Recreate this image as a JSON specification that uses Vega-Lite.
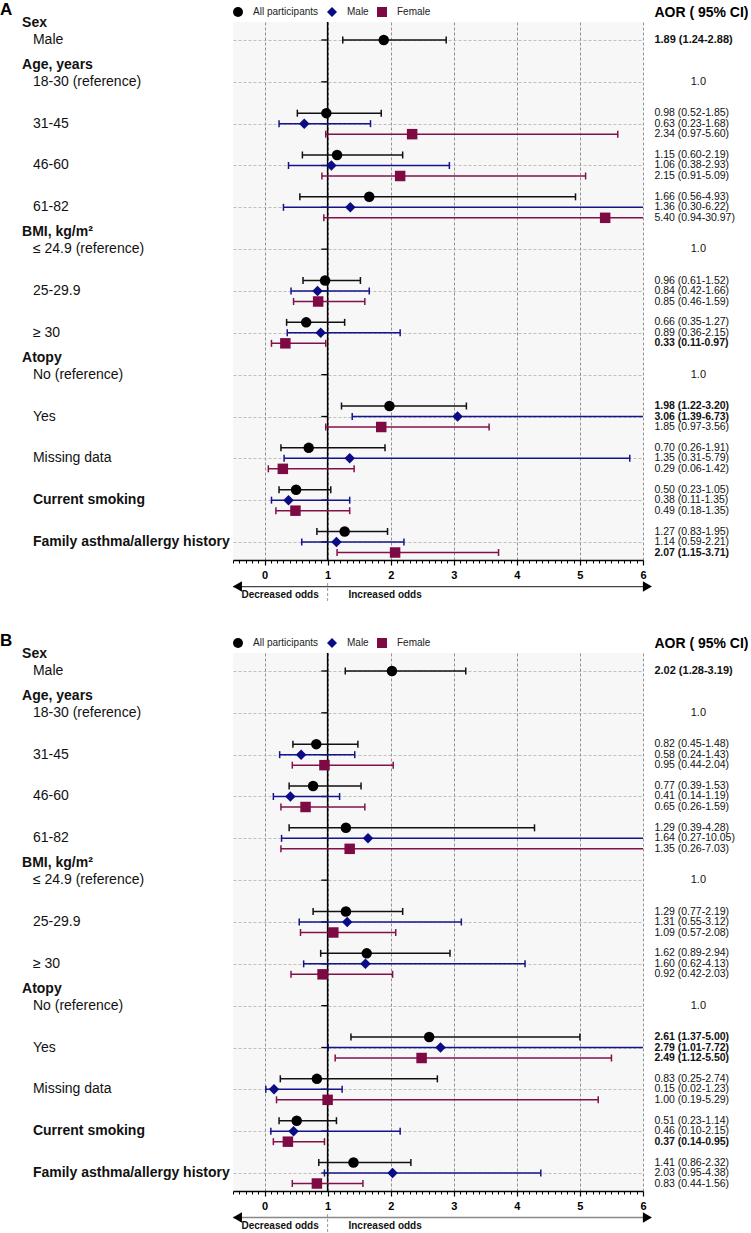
{
"$schema": "https://vega.github.io/schema/vega-lite/v6.json",
"padding": 0,
"background": "white",
"config": {"font": "Liberation Sans", "view": {"stroke": null}, "title": {"anchor": "start", "fontWeight": "bold", "color": "#000"}, "text": {"color": "#111"}},
"datasets": {
"rows": [
{"row": "Male", "group": "Sex", "header": "Sex"},
{"row": "18-30 (reference)", "group": "Age, years", "header": "Age, years", "aor": "1.0"},
{"row": "31-45", "group": "Age, years"},
{"row": "46-60", "group": "Age, years"},
{"row": "61-82", "group": "Age, years"},
{"row": "≤ 24.9 (reference)", "group": "BMI, kg/m²", "header": "BMI, kg/m²", "aor": "1.0"},
{"row": "25-29.9", "group": "BMI, kg/m²"},
{"row": "≥ 30", "group": "BMI, kg/m²"},
{"row": "No (reference)", "group": "Atopy", "header": "Atopy", "aor": "1.0"},
{"row": "Yes", "group": "Atopy"},
{"row": "Missing data", "group": "Atopy"},
{"row": "Current smoking", "group": "Current smoking"},
{"row": "Family asthma/allergy history", "group": "Family asthma/allergy history"}
],
"estA": [
{"row": "Male", "group": "Sex", "series": "All participants", "aor": 1.89, "lo": 1.24, "hi": 2.88, "ci": "1.89 (1.24-2.88)"},
{"row": "31-45", "group": "Age", "series": "All participants", "aor": 0.98, "lo": 0.52, "hi": 1.85, "ci": "0.98 (0.52-1.85)"},
{"row": "31-45", "group": "Age", "series": "Male", "aor": 0.63, "lo": 0.23, "hi": 1.68, "ci": "0.63 (0.23-1.68)"},
{"row": "31-45", "group": "Age", "series": "Female", "aor": 2.34, "lo": 0.97, "hi": 5.60, "ci": "2.34 (0.97-5.60)"},
{"row": "46-60", "group": "Age", "series": "All participants", "aor": 1.15, "lo": 0.60, "hi": 2.19, "ci": "1.15 (0.60-2.19)"},
{"row": "46-60", "group": "Age", "series": "Male", "aor": 1.06, "lo": 0.38, "hi": 2.93, "ci": "1.06 (0.38-2.93)"},
{"row": "46-60", "group": "Age", "series": "Female", "aor": 2.15, "lo": 0.91, "hi": 5.09, "ci": "2.15 (0.91-5.09)"},
{"row": "61-82", "group": "Age", "series": "All participants", "aor": 1.66, "lo": 0.56, "hi": 4.93, "ci": "1.66 (0.56-4.93)"},
{"row": "61-82", "group": "Age", "series": "Male", "aor": 1.36, "lo": 0.30, "hi": 6.22, "ci": "1.36 (0.30-6.22)"},
{"row": "61-82", "group": "Age", "series": "Female", "aor": 5.40, "lo": 0.94, "hi": 30.97, "ci": "5.40 (0.94-30.97)"},
{"row": "25-29.9", "group": "BMI", "series": "All participants", "aor": 0.96, "lo": 0.61, "hi": 1.52, "ci": "0.96 (0.61-1.52)"},
{"row": "25-29.9", "group": "BMI", "series": "Male", "aor": 0.84, "lo": 0.42, "hi": 1.66, "ci": "0.84 (0.42-1.66)"},
{"row": "25-29.9", "group": "BMI", "series": "Female", "aor": 0.85, "lo": 0.46, "hi": 1.59, "ci": "0.85 (0.46-1.59)"},
{"row": "≥ 30", "group": "BMI", "series": "All participants", "aor": 0.66, "lo": 0.35, "hi": 1.27, "ci": "0.66 (0.35-1.27)"},
{"row": "≥ 30", "group": "BMI", "series": "Male", "aor": 0.89, "lo": 0.36, "hi": 2.15, "ci": "0.89 (0.36-2.15)"},
{"row": "≥ 30", "group": "BMI", "series": "Female", "aor": 0.33, "lo": 0.11, "hi": 0.97, "ci": "0.33 (0.11-0.97)"},
{"row": "Yes", "group": "Atopy", "series": "All participants", "aor": 1.98, "lo": 1.22, "hi": 3.20, "ci": "1.98 (1.22-3.20)"},
{"row": "Yes", "group": "Atopy", "series": "Male", "aor": 3.06, "lo": 1.39, "hi": 6.73, "ci": "3.06 (1.39-6.73)"},
{"row": "Yes", "group": "Atopy", "series": "Female", "aor": 1.85, "lo": 0.97, "hi": 3.56, "ci": "1.85 (0.97-3.56)"},
{"row": "Missing data", "group": "Atopy", "series": "All participants", "aor": 0.70, "lo": 0.26, "hi": 1.91, "ci": "0.70 (0.26-1.91)"},
{"row": "Missing data", "group": "Atopy", "series": "Male", "aor": 1.35, "lo": 0.31, "hi": 5.79, "ci": "1.35 (0.31-5.79)"},
{"row": "Missing data", "group": "Atopy", "series": "Female", "aor": 0.29, "lo": 0.06, "hi": 1.42, "ci": "0.29 (0.06-1.42)"},
{"row": "Current smoking", "group": "Smoking", "series": "All participants", "aor": 0.50, "lo": 0.23, "hi": 1.05, "ci": "0.50 (0.23-1.05)"},
{"row": "Current smoking", "group": "Smoking", "series": "Male", "aor": 0.38, "lo": 0.11, "hi": 1.35, "ci": "0.38 (0.11-1.35)"},
{"row": "Current smoking", "group": "Smoking", "series": "Female", "aor": 0.49, "lo": 0.18, "hi": 1.35, "ci": "0.49 (0.18-1.35)"},
{"row": "Family asthma/allergy history", "group": "Family", "series": "All participants", "aor": 1.27, "lo": 0.83, "hi": 1.95, "ci": "1.27 (0.83-1.95)"},
{"row": "Family asthma/allergy history", "group": "Family", "series": "Male", "aor": 1.14, "lo": 0.59, "hi": 2.21, "ci": "1.14 (0.59-2.21)"},
{"row": "Family asthma/allergy history", "group": "Family", "series": "Female", "aor": 2.07, "lo": 1.15, "hi": 3.71, "ci": "2.07 (1.15-3.71)"}
],
"estB": [
{"row": "Male", "group": "Sex", "series": "All participants", "aor": 2.02, "lo": 1.28, "hi": 3.19, "ci": "2.02 (1.28-3.19)"},
{"row": "31-45", "group": "Age", "series": "All participants", "aor": 0.82, "lo": 0.45, "hi": 1.48, "ci": "0.82 (0.45-1.48)"},
{"row": "31-45", "group": "Age", "series": "Male", "aor": 0.58, "lo": 0.24, "hi": 1.43, "ci": "0.58 (0.24-1.43)"},
{"row": "31-45", "group": "Age", "series": "Female", "aor": 0.95, "lo": 0.44, "hi": 2.04, "ci": "0.95 (0.44-2.04)"},
{"row": "46-60", "group": "Age", "series": "All participants", "aor": 0.77, "lo": 0.39, "hi": 1.53, "ci": "0.77 (0.39-1.53)"},
{"row": "46-60", "group": "Age", "series": "Male", "aor": 0.41, "lo": 0.14, "hi": 1.19, "ci": "0.41 (0.14-1.19)"},
{"row": "46-60", "group": "Age", "series": "Female", "aor": 0.65, "lo": 0.26, "hi": 1.59, "ci": "0.65 (0.26-1.59)"},
{"row": "61-82", "group": "Age", "series": "All participants", "aor": 1.29, "lo": 0.39, "hi": 4.28, "ci": "1.29 (0.39-4.28)"},
{"row": "61-82", "group": "Age", "series": "Male", "aor": 1.64, "lo": 0.27, "hi": 10.05, "ci": "1.64 (0.27-10.05)"},
{"row": "61-82", "group": "Age", "series": "Female", "aor": 1.35, "lo": 0.26, "hi": 7.03, "ci": "1.35 (0.26-7.03)"},
{"row": "25-29.9", "group": "BMI", "series": "All participants", "aor": 1.29, "lo": 0.77, "hi": 2.19, "ci": "1.29 (0.77-2.19)"},
{"row": "25-29.9", "group": "BMI", "series": "Male", "aor": 1.31, "lo": 0.55, "hi": 3.12, "ci": "1.31 (0.55-3.12)"},
{"row": "25-29.9", "group": "BMI", "series": "Female", "aor": 1.09, "lo": 0.57, "hi": 2.08, "ci": "1.09 (0.57-2.08)"},
{"row": "≥ 30", "group": "BMI", "series": "All participants", "aor": 1.62, "lo": 0.89, "hi": 2.94, "ci": "1.62 (0.89-2.94)"},
{"row": "≥ 30", "group": "BMI", "series": "Male", "aor": 1.60, "lo": 0.62, "hi": 4.13, "ci": "1.60 (0.62-4.13)"},
{"row": "≥ 30", "group": "BMI", "series": "Female", "aor": 0.92, "lo": 0.42, "hi": 2.03, "ci": "0.92 (0.42-2.03)"},
{"row": "Yes", "group": "Atopy", "series": "All participants", "aor": 2.61, "lo": 1.37, "hi": 5.00, "ci": "2.61 (1.37-5.00)"},
{"row": "Yes", "group": "Atopy", "series": "Male", "aor": 2.79, "lo": 1.01, "hi": 7.72, "ci": "2.79 (1.01-7.72)"},
{"row": "Yes", "group": "Atopy", "series": "Female", "aor": 2.49, "lo": 1.12, "hi": 5.50, "ci": "2.49 (1.12-5.50)"},
{"row": "Missing data", "group": "Atopy", "series": "All participants", "aor": 0.83, "lo": 0.25, "hi": 2.74, "ci": "0.83 (0.25-2.74)"},
{"row": "Missing data", "group": "Atopy", "series": "Male", "aor": 0.15, "lo": 0.02, "hi": 1.23, "ci": "0.15 (0.02-1.23)"},
{"row": "Missing data", "group": "Atopy", "series": "Female", "aor": 1.00, "lo": 0.19, "hi": 5.29, "ci": "1.00 (0.19-5.29)"},
{"row": "Current smoking", "group": "Smoking", "series": "All participants", "aor": 0.51, "lo": 0.23, "hi": 1.14, "ci": "0.51 (0.23-1.14)"},
{"row": "Current smoking", "group": "Smoking", "series": "Male", "aor": 0.46, "lo": 0.10, "hi": 2.15, "ci": "0.46 (0.10-2.15)"},
{"row": "Current smoking", "group": "Smoking", "series": "Female", "aor": 0.37, "lo": 0.14, "hi": 0.95, "ci": "0.37 (0.14-0.95)"},
{"row": "Family asthma/allergy history", "group": "Family", "series": "All participants", "aor": 1.41, "lo": 0.86, "hi": 2.32, "ci": "1.41 (0.86-2.32)"},
{"row": "Family asthma/allergy history", "group": "Family", "series": "Male", "aor": 2.03, "lo": 0.95, "hi": 4.38, "ci": "2.03 (0.95-4.38)"},
{"row": "Family asthma/allergy history", "group": "Family", "series": "Female", "aor": 0.83, "lo": 0.44, "hi": 1.56, "ci": "0.83 (0.44-1.56)"}
]
},
"vconcat": [
{
"hconcat": [
{"width": 232, "height": 538, "title": {"text": "A", "fontSize": 17, "offset": -3},
 "data": {"name": "rows"},
 "layer": [
  {"transform": [{"filter": "datum.header"}], "mark": {"type": "text", "align": "left", "baseline": "middle", "dy": -17, "fontSize": 14, "fontWeight": "bold"},
   "encoding": {"y": {"field": "row", "type": "nominal", "scale": {"type": "point", "domain": ["Male","18-30 (reference)","31-45","46-60","61-82","≤ 24.9 (reference)","25-29.9","≥ 30","No (reference)","Yes","Missing data","Current smoking","Family asthma/allergy history"], "padding": 0.43}, "axis": null},
    "x": {"datum": 0.095, "type": "quantitative", "scale": {"domain": [0, 1]}, "axis": null}, "text": {"field": "header"}}},
  {"mark": {"type": "text", "align": "left", "baseline": "middle", "fontSize": 14, "fontWeight": {"expr": "datum.row === datum.group ? 'bold' : 'normal'"}},
   "encoding": {"y": {"field": "row", "type": "nominal", "scale": {"type": "point", "domain": ["Male","18-30 (reference)","31-45","46-60","61-82","≤ 24.9 (reference)","25-29.9","≥ 30","No (reference)","Yes","Missing data","Current smoking","Family asthma/allergy history"], "padding": 0.43}, "axis": null},
    "x": {"datum": 0.142, "type": "quantitative", "scale": {"domain": [0, 1]}, "axis": null}, "text": {"field": "row"}}}
 ]},
{"vconcat": [
 {"width": 410, "height": 538, "view": {"fill": "#f7f7f7", "stroke": null},
  "resolve": {"axis": {"x": "independent"}},
  "layer": [
   {"data": {"name": "rows"}, "mark": {"type": "rule", "color": "#000", "strokeWidth": 1.3},
    "encoding": {"y": {"field": "row", "type": "nominal", "scale": {"type": "point", "domain": ["Male","18-30 (reference)","31-45","46-60","61-82","≤ 24.9 (reference)","25-29.9","≥ 30","No (reference)","Yes","Missing data","Current smoking","Family asthma/allergy history"], "padding": 0.43}, "axis": {"grid": true, "gridColor": "#b0b0b0", "gridDash": [3, 2], "gridWidth": 0.8, "labels": false, "ticks": false, "domain": false, "title": null}},
     "x": {"datum": 0.9, "type": "quantitative", "scale": {"domain": [-0.5, 6], "nice": false, "zero": false},
      "axis": {"orient": "bottom", "values": [0, 1, 2, 3, 4, 5, 6], "format": "d", "title": null, "domainColor": "#000", "domainWidth": 1.5, "tickColor": "#000", "tickWidth": 1.2, "tickSize": 5,
       "labelFontSize": 11, "labelFontWeight": "bold", "labelColor": "#000", "labelPadding": 4, "labelFlush": false, "labelOverlap": false,
       "grid": true, "gridColor": "#777", "gridDash": [3, 2], "gridWidth": 0.8}},
     "x2": {"datum": 1}}},
   {"data": {"values": [{}]}, "mark": {"type": "rule", "color": "#000", "strokeWidth": 1.5},
    "encoding": {"x": {"datum": 1, "type": "quantitative", "scale": {"domain": [-0.5, 6], "nice": false, "zero": false},
     "axis": {"orient": "bottom", "values": [-0.5,-0.4,-0.3,-0.2,-0.1,0.1,0.2,0.3,0.4,0.5,0.6,0.7,0.8,0.9,1.1,1.2,1.3,1.4,1.5,1.6,1.7,1.8,1.9,2.1,2.2,2.3,2.4,2.5,2.6,2.7,2.8,2.9,3.1,3.2,3.3,3.4,3.5,3.6,3.7,3.8,3.9,4.1,4.2,4.3,4.4,4.5,4.6,4.7,4.8,4.9,5.1,5.2,5.3,5.4,5.5,5.6,5.7,5.8,5.9],
      "title": null, "labels": false, "grid": false, "domain": false, "tickColor": "#000", "tickWidth": 1, "tickSize": 3}}}},
   {"data": {"name": "estA"}, "transform": [{"filter": "datum.group !== 'Sex'"}],
    "encoding": {"y": {"field": "row", "type": "nominal", "scale": {"type": "point", "domain": ["Male","18-30 (reference)","31-45","46-60","61-82","≤ 24.9 (reference)","25-29.9","≥ 30","No (reference)","Yes","Missing data","Current smoking","Family asthma/allergy history"], "padding": 0.43}, "axis": {"title": null}},
     "yOffset": {"field": "series", "type": "nominal", "scale": {"type": "point", "domain": ["All participants", "Male", "Female"], "range": [-10.5, 10.5], "padding": 0}}},
    "layer": [
     {"mark": {"type": "rule", "strokeWidth": 1.5, "clip": true},
      "encoding": {"x": {"field": "lo", "type": "quantitative", "scale": {"domain": [-0.5, 6], "nice": false, "zero": false}, "axis": null}, "x2": {"field": "hi"},
       "stroke": {"field": "series", "type": "nominal", "scale": {"domain": ["Female", "Male", "All participants"], "range": ["#84104a", "#14148c", "#111111"]}, "legend": null}}},
     {"mark": {"type": "point", "shape": "M0,-1L0,1", "filled": false, "size": 49, "strokeWidth": 1.5, "opacity": 1, "clip": true},
      "encoding": {"x": {"field": "lo", "type": "quantitative", "scale": {"domain": [-0.5, 6], "nice": false, "zero": false}, "axis": null},
       "stroke": {"field": "series", "type": "nominal", "scale": {"domain": ["Female", "Male", "All participants"], "range": ["#84104a", "#14148c", "#111111"]}, "legend": null}}},
     {"mark": {"type": "point", "shape": "M0,-1L0,1", "filled": false, "size": 49, "strokeWidth": 1.5, "opacity": 1, "clip": true},
      "encoding": {"x": {"field": "hi", "type": "quantitative", "scale": {"domain": [-0.5, 6], "nice": false, "zero": false}, "axis": null},
       "stroke": {"field": "series", "type": "nominal", "scale": {"domain": ["Female", "Male", "All participants"], "range": ["#84104a", "#14148c", "#111111"]}, "legend": null}}},
     {"mark": {"type": "point", "filled": true, "size": 110, "strokeWidth": 0, "opacity": 1},
      "encoding": {"x": {"field": "aor", "type": "quantitative", "scale": {"domain": [-0.5, 6], "nice": false, "zero": false}, "axis": null},
       "fill": {"field": "series", "type": "nominal", "scale": {"domain": ["All participants", "Male", "Female"], "range": ["#000000", "#0b0b85", "#7d0a42"]},
        "legend": {"orient": "top", "title": null, "direction": "horizontal", "labelFontSize": 10, "labelColor": "#222", "offset": 5, "padding": 0, "symbolStrokeWidth": 0, "symbolSize": 100, "columnPadding": 8, "labelOffset": 10}},
       "shape": {"field": "series", "type": "nominal", "scale": {"domain": ["All participants", "Male", "Female"], "range": ["circle", "diamond", "square"]}}}}
    ]},
   {"data": {"name": "estA"}, "transform": [{"filter": "datum.group === 'Sex'"}],
    "encoding": {"y": {"field": "row", "type": "nominal", "scale": {"type": "point", "domain": ["Male","18-30 (reference)","31-45","46-60","61-82","≤ 24.9 (reference)","25-29.9","≥ 30","No (reference)","Yes","Missing data","Current smoking","Family asthma/allergy history"], "padding": 0.43}, "axis": {"title": null}}},
    "layer": [
     {"mark": {"type": "rule", "strokeWidth": 1.5, "clip": true},
      "encoding": {"x": {"field": "lo", "type": "quantitative", "scale": {"domain": [-0.5, 6], "nice": false, "zero": false}, "axis": null}, "x2": {"field": "hi"},
       "stroke": {"field": "series", "type": "nominal", "scale": {"domain": ["Female", "Male", "All participants"], "range": ["#84104a", "#14148c", "#111111"]}, "legend": null}}},
     {"mark": {"type": "point", "shape": "M0,-1L0,1", "filled": false, "size": 49, "strokeWidth": 1.5, "opacity": 1, "clip": true},
      "encoding": {"x": {"field": "lo", "type": "quantitative", "scale": {"domain": [-0.5, 6], "nice": false, "zero": false}, "axis": null},
       "stroke": {"field": "series", "type": "nominal", "scale": {"domain": ["Female", "Male", "All participants"], "range": ["#84104a", "#14148c", "#111111"]}, "legend": null}}},
     {"mark": {"type": "point", "shape": "M0,-1L0,1", "filled": false, "size": 49, "strokeWidth": 1.5, "opacity": 1, "clip": true},
      "encoding": {"x": {"field": "hi", "type": "quantitative", "scale": {"domain": [-0.5, 6], "nice": false, "zero": false}, "axis": null},
       "stroke": {"field": "series", "type": "nominal", "scale": {"domain": ["Female", "Male", "All participants"], "range": ["#84104a", "#14148c", "#111111"]}, "legend": null}}},
     {"mark": {"type": "point", "filled": true, "size": 110, "strokeWidth": 0, "opacity": 1},
      "encoding": {"x": {"field": "aor", "type": "quantitative", "scale": {"domain": [-0.5, 6], "nice": false, "zero": false}, "axis": null},
       "fill": {"field": "series", "type": "nominal", "scale": {"domain": ["All participants", "Male", "Female"], "range": ["#000000", "#0b0b85", "#7d0a42"]}},
       "shape": {"field": "series", "type": "nominal", "scale": {"domain": ["All participants", "Male", "Female"], "range": ["circle", "diamond", "square"]}}}}
    ]}
  ]},
 {"width": 410, "height": 18, "data": {"values": [{}]},
  "layer": [
   {"mark": {"type": "rule", "color": "#999", "strokeWidth": 1, "strokeDash": [3, 2]},
    "encoding": {"x": {"datum": 1, "type": "quantitative", "scale": {"domain": [-0.5, 6], "nice": false, "zero": false}, "axis": null},
     "y": {"datum": 0, "type": "quantitative", "scale": {"domain": [0, 1]}, "axis": null}, "y2": {"datum": 1}}},
   {"mark": {"type": "rule", "color": "#444", "strokeWidth": 1.3},
    "encoding": {"x": {"datum": -0.5, "type": "quantitative", "scale": {"domain": [-0.5, 6], "nice": false, "zero": false}, "axis": null}, "x2": {"datum": 6},
     "y": {"datum": 0.8, "type": "quantitative", "scale": {"domain": [0, 1]}, "axis": null}}},
   {"mark": {"type": "point", "shape": "triangle-left", "filled": true, "color": "#000", "size": 110, "opacity": 1},
    "encoding": {"x": {"datum": -0.43, "type": "quantitative", "scale": {"domain": [-0.5, 6], "nice": false, "zero": false}, "axis": null},
     "y": {"datum": 0.8, "type": "quantitative", "scale": {"domain": [0, 1]}, "axis": null}}},
   {"mark": {"type": "point", "shape": "triangle-right", "filled": true, "color": "#000", "size": 110, "opacity": 1},
    "encoding": {"x": {"datum": 6.07, "type": "quantitative", "scale": {"domain": [-0.5, 6], "nice": false, "zero": false}, "axis": null},
     "y": {"datum": 0.8, "type": "quantitative", "scale": {"domain": [0, 1]}, "axis": null}}},
   {"mark": {"type": "text", "text": "Decreased odds", "align": "right", "baseline": "middle", "fontSize": 10, "fontWeight": "bold", "color": "#111"},
    "encoding": {"x": {"datum": 0.86, "type": "quantitative", "scale": {"domain": [-0.5, 6], "nice": false, "zero": false}, "axis": null},
     "y": {"datum": 0.36, "type": "quantitative", "scale": {"domain": [0, 1]}, "axis": null}}},
   {"mark": {"type": "text", "text": "Increased odds", "align": "left", "baseline": "middle", "fontSize": 10, "fontWeight": "bold", "color": "#111"},
    "encoding": {"x": {"datum": 1.33, "type": "quantitative", "scale": {"domain": [-0.5, 6], "nice": false, "zero": false}, "axis": null},
     "y": {"datum": 0.36, "type": "quantitative", "scale": {"domain": [0, 1]}, "axis": null}}}
  ]}
 ], "spacing": 23, "bounds": "flush", "resolve": {"scale": {"fill": "independent", "shape": "independent", "stroke": "independent"}}},
{"width": 104, "height": 538,
 "data": {"name": "estA"},
 "layer": [
  {"data": {"values": [{}]}, "mark": {"type": "text", "text": "AOR ( 95% CI)", "align": "left", "baseline": "middle", "dy": -27, "fontSize": 14, "fontWeight": "bold", "color": "#000"},
   "encoding": {"y": {"datum": "Male", "type": "nominal", "scale": {"type": "point", "domain": ["Male","18-30 (reference)","31-45","46-60","61-82","≤ 24.9 (reference)","25-29.9","≥ 30","No (reference)","Yes","Missing data","Current smoking","Family asthma/allergy history"], "padding": 0.43}, "axis": null},
    "x": {"datum": 0.023, "type": "quantitative", "scale": {"domain": [0, 1]}, "axis": null}}},
  {"transform": [{"filter": "datum.group !== 'Sex'"}],
   "mark": {"type": "text", "align": "left", "baseline": "middle", "fontSize": 10.5, "fontWeight": {"expr": "datum.lo > 1 || datum.hi < 1 ? 'bold' : 'normal'"}},
   "encoding": {"y": {"field": "row", "type": "nominal", "scale": {"type": "point", "domain": ["Male","18-30 (reference)","31-45","46-60","61-82","≤ 24.9 (reference)","25-29.9","≥ 30","No (reference)","Yes","Missing data","Current smoking","Family asthma/allergy history"], "padding": 0.43}, "axis": null},
    "yOffset": {"field": "series", "type": "nominal", "scale": {"type": "point", "domain": ["All participants", "Male", "Female"], "range": [-10.5, 10.5], "padding": 0}},
    "x": {"datum": 0.023, "type": "quantitative", "scale": {"domain": [0, 1]}, "axis": null}, "text": {"field": "ci"}}},
  {"transform": [{"filter": "datum.group === 'Sex'"}],
   "mark": {"type": "text", "align": "left", "baseline": "middle", "fontSize": 11, "fontWeight": {"expr": "datum.lo > 1 || datum.hi < 1 ? 'bold' : 'normal'"}},
   "encoding": {"y": {"field": "row", "type": "nominal", "scale": {"type": "point", "domain": ["Male","18-30 (reference)","31-45","46-60","61-82","≤ 24.9 (reference)","25-29.9","≥ 30","No (reference)","Yes","Missing data","Current smoking","Family asthma/allergy history"], "padding": 0.43}, "axis": null},
    "x": {"datum": 0.023, "type": "quantitative", "scale": {"domain": [0, 1]}, "axis": null}, "text": {"field": "ci"}}},
  {"data": {"name": "rows"}, "transform": [{"filter": "datum.aor"}],
   "mark": {"type": "text", "align": "center", "baseline": "middle", "fontSize": 11},
   "encoding": {"y": {"field": "row", "type": "nominal", "scale": {"type": "point", "domain": ["Male","18-30 (reference)","31-45","46-60","61-82","≤ 24.9 (reference)","25-29.9","≥ 30","No (reference)","Yes","Missing data","Current smoking","Family asthma/allergy history"], "padding": 0.43}, "axis": null},
    "x": {"datum": 0.446, "type": "quantitative", "scale": {"domain": [0, 1]}, "axis": null}, "text": {"field": "aor"}}}
 ]}
], "spacing": 0, "resolve": {"scale": {"fill": "independent", "shape": "independent", "stroke": "independent"}}
},
{
"hconcat": [
{"width": 232, "height": 538, "title": {"text": "B", "fontSize": 17, "offset": -3},
 "data": {"name": "rows"},
 "layer": [
  {"transform": [{"filter": "datum.header"}], "mark": {"type": "text", "align": "left", "baseline": "middle", "dy": -17, "fontSize": 14, "fontWeight": "bold"},
   "encoding": {"y": {"field": "row", "type": "nominal", "scale": {"type": "point", "domain": ["Male","18-30 (reference)","31-45","46-60","61-82","≤ 24.9 (reference)","25-29.9","≥ 30","No (reference)","Yes","Missing data","Current smoking","Family asthma/allergy history"], "padding": 0.43}, "axis": null},
    "x": {"datum": 0.095, "type": "quantitative", "scale": {"domain": [0, 1]}, "axis": null}, "text": {"field": "header"}}},
  {"mark": {"type": "text", "align": "left", "baseline": "middle", "fontSize": 14, "fontWeight": {"expr": "datum.row === datum.group ? 'bold' : 'normal'"}},
   "encoding": {"y": {"field": "row", "type": "nominal", "scale": {"type": "point", "domain": ["Male","18-30 (reference)","31-45","46-60","61-82","≤ 24.9 (reference)","25-29.9","≥ 30","No (reference)","Yes","Missing data","Current smoking","Family asthma/allergy history"], "padding": 0.43}, "axis": null},
    "x": {"datum": 0.142, "type": "quantitative", "scale": {"domain": [0, 1]}, "axis": null}, "text": {"field": "row"}}}
 ]},
{"vconcat": [
 {"width": 410, "height": 538, "view": {"fill": "#f7f7f7", "stroke": null},
  "resolve": {"axis": {"x": "independent"}},
  "layer": [
   {"data": {"name": "rows"}, "mark": {"type": "rule", "color": "#000", "strokeWidth": 1.3},
    "encoding": {"y": {"field": "row", "type": "nominal", "scale": {"type": "point", "domain": ["Male","18-30 (reference)","31-45","46-60","61-82","≤ 24.9 (reference)","25-29.9","≥ 30","No (reference)","Yes","Missing data","Current smoking","Family asthma/allergy history"], "padding": 0.43}, "axis": {"grid": true, "gridColor": "#b0b0b0", "gridDash": [3, 2], "gridWidth": 0.8, "labels": false, "ticks": false, "domain": false, "title": null}},
     "x": {"datum": 0.9, "type": "quantitative", "scale": {"domain": [-0.5, 6], "nice": false, "zero": false},
      "axis": {"orient": "bottom", "values": [0, 1, 2, 3, 4, 5, 6], "format": "d", "title": null, "domainColor": "#000", "domainWidth": 1.5, "tickColor": "#000", "tickWidth": 1.2, "tickSize": 5,
       "labelFontSize": 11, "labelFontWeight": "bold", "labelColor": "#000", "labelPadding": 4, "labelFlush": false, "labelOverlap": false,
       "grid": true, "gridColor": "#777", "gridDash": [3, 2], "gridWidth": 0.8}},
     "x2": {"datum": 1}}},
   {"data": {"values": [{}]}, "mark": {"type": "rule", "color": "#000", "strokeWidth": 1.5},
    "encoding": {"x": {"datum": 1, "type": "quantitative", "scale": {"domain": [-0.5, 6], "nice": false, "zero": false},
     "axis": {"orient": "bottom", "values": [-0.5,-0.4,-0.3,-0.2,-0.1,0.1,0.2,0.3,0.4,0.5,0.6,0.7,0.8,0.9,1.1,1.2,1.3,1.4,1.5,1.6,1.7,1.8,1.9,2.1,2.2,2.3,2.4,2.5,2.6,2.7,2.8,2.9,3.1,3.2,3.3,3.4,3.5,3.6,3.7,3.8,3.9,4.1,4.2,4.3,4.4,4.5,4.6,4.7,4.8,4.9,5.1,5.2,5.3,5.4,5.5,5.6,5.7,5.8,5.9],
      "title": null, "labels": false, "grid": false, "domain": false, "tickColor": "#000", "tickWidth": 1, "tickSize": 3}}}},
   {"data": {"name": "estB"}, "transform": [{"filter": "datum.group !== 'Sex'"}],
    "encoding": {"y": {"field": "row", "type": "nominal", "scale": {"type": "point", "domain": ["Male","18-30 (reference)","31-45","46-60","61-82","≤ 24.9 (reference)","25-29.9","≥ 30","No (reference)","Yes","Missing data","Current smoking","Family asthma/allergy history"], "padding": 0.43}, "axis": {"title": null}},
     "yOffset": {"field": "series", "type": "nominal", "scale": {"type": "point", "domain": ["All participants", "Male", "Female"], "range": [-10.5, 10.5], "padding": 0}}},
    "layer": [
     {"mark": {"type": "rule", "strokeWidth": 1.5, "clip": true},
      "encoding": {"x": {"field": "lo", "type": "quantitative", "scale": {"domain": [-0.5, 6], "nice": false, "zero": false}, "axis": null}, "x2": {"field": "hi"},
       "stroke": {"field": "series", "type": "nominal", "scale": {"domain": ["Female", "Male", "All participants"], "range": ["#84104a", "#14148c", "#111111"]}, "legend": null}}},
     {"mark": {"type": "point", "shape": "M0,-1L0,1", "filled": false, "size": 49, "strokeWidth": 1.5, "opacity": 1, "clip": true},
      "encoding": {"x": {"field": "lo", "type": "quantitative", "scale": {"domain": [-0.5, 6], "nice": false, "zero": false}, "axis": null},
       "stroke": {"field": "series", "type": "nominal", "scale": {"domain": ["Female", "Male", "All participants"], "range": ["#84104a", "#14148c", "#111111"]}, "legend": null}}},
     {"mark": {"type": "point", "shape": "M0,-1L0,1", "filled": false, "size": 49, "strokeWidth": 1.5, "opacity": 1, "clip": true},
      "encoding": {"x": {"field": "hi", "type": "quantitative", "scale": {"domain": [-0.5, 6], "nice": false, "zero": false}, "axis": null},
       "stroke": {"field": "series", "type": "nominal", "scale": {"domain": ["Female", "Male", "All participants"], "range": ["#84104a", "#14148c", "#111111"]}, "legend": null}}},
     {"mark": {"type": "point", "filled": true, "size": 110, "strokeWidth": 0, "opacity": 1},
      "encoding": {"x": {"field": "aor", "type": "quantitative", "scale": {"domain": [-0.5, 6], "nice": false, "zero": false}, "axis": null},
       "fill": {"field": "series", "type": "nominal", "scale": {"domain": ["All participants", "Male", "Female"], "range": ["#000000", "#0b0b85", "#7d0a42"]},
        "legend": {"orient": "top", "title": null, "direction": "horizontal", "labelFontSize": 10, "labelColor": "#222", "offset": 5, "padding": 0, "symbolStrokeWidth": 0, "symbolSize": 100, "columnPadding": 8, "labelOffset": 10}},
       "shape": {"field": "series", "type": "nominal", "scale": {"domain": ["All participants", "Male", "Female"], "range": ["circle", "diamond", "square"]}}}}
    ]},
   {"data": {"name": "estB"}, "transform": [{"filter": "datum.group === 'Sex'"}],
    "encoding": {"y": {"field": "row", "type": "nominal", "scale": {"type": "point", "domain": ["Male","18-30 (reference)","31-45","46-60","61-82","≤ 24.9 (reference)","25-29.9","≥ 30","No (reference)","Yes","Missing data","Current smoking","Family asthma/allergy history"], "padding": 0.43}, "axis": {"title": null}}},
    "layer": [
     {"mark": {"type": "rule", "strokeWidth": 1.5, "clip": true},
      "encoding": {"x": {"field": "lo", "type": "quantitative", "scale": {"domain": [-0.5, 6], "nice": false, "zero": false}, "axis": null}, "x2": {"field": "hi"},
       "stroke": {"field": "series", "type": "nominal", "scale": {"domain": ["Female", "Male", "All participants"], "range": ["#84104a", "#14148c", "#111111"]}, "legend": null}}},
     {"mark": {"type": "point", "shape": "M0,-1L0,1", "filled": false, "size": 49, "strokeWidth": 1.5, "opacity": 1, "clip": true},
      "encoding": {"x": {"field": "lo", "type": "quantitative", "scale": {"domain": [-0.5, 6], "nice": false, "zero": false}, "axis": null},
       "stroke": {"field": "series", "type": "nominal", "scale": {"domain": ["Female", "Male", "All participants"], "range": ["#84104a", "#14148c", "#111111"]}, "legend": null}}},
     {"mark": {"type": "point", "shape": "M0,-1L0,1", "filled": false, "size": 49, "strokeWidth": 1.5, "opacity": 1, "clip": true},
      "encoding": {"x": {"field": "hi", "type": "quantitative", "scale": {"domain": [-0.5, 6], "nice": false, "zero": false}, "axis": null},
       "stroke": {"field": "series", "type": "nominal", "scale": {"domain": ["Female", "Male", "All participants"], "range": ["#84104a", "#14148c", "#111111"]}, "legend": null}}},
     {"mark": {"type": "point", "filled": true, "size": 110, "strokeWidth": 0, "opacity": 1},
      "encoding": {"x": {"field": "aor", "type": "quantitative", "scale": {"domain": [-0.5, 6], "nice": false, "zero": false}, "axis": null},
       "fill": {"field": "series", "type": "nominal", "scale": {"domain": ["All participants", "Male", "Female"], "range": ["#000000", "#0b0b85", "#7d0a42"]}},
       "shape": {"field": "series", "type": "nominal", "scale": {"domain": ["All participants", "Male", "Female"], "range": ["circle", "diamond", "square"]}}}}
    ]}
  ]},
 {"width": 410, "height": 18, "data": {"values": [{}]},
  "layer": [
   {"mark": {"type": "rule", "color": "#999", "strokeWidth": 1, "strokeDash": [3, 2]},
    "encoding": {"x": {"datum": 1, "type": "quantitative", "scale": {"domain": [-0.5, 6], "nice": false, "zero": false}, "axis": null},
     "y": {"datum": 0, "type": "quantitative", "scale": {"domain": [0, 1]}, "axis": null}, "y2": {"datum": 1}}},
   {"mark": {"type": "rule", "color": "#888", "strokeWidth": 1.5},
    "encoding": {"x": {"datum": -0.5, "type": "quantitative", "scale": {"domain": [-0.5, 6], "nice": false, "zero": false}, "axis": null}, "x2": {"datum": 6},
     "y": {"datum": 0.8, "type": "quantitative", "scale": {"domain": [0, 1]}, "axis": null}}},
   {"mark": {"type": "point", "shape": "triangle-left", "filled": true, "color": "#000", "size": 110, "opacity": 1},
    "encoding": {"x": {"datum": -0.43, "type": "quantitative", "scale": {"domain": [-0.5, 6], "nice": false, "zero": false}, "axis": null},
     "y": {"datum": 0.8, "type": "quantitative", "scale": {"domain": [0, 1]}, "axis": null}}},
   {"mark": {"type": "point", "shape": "triangle-right", "filled": true, "color": "#000", "size": 110, "opacity": 1},
    "encoding": {"x": {"datum": 6.07, "type": "quantitative", "scale": {"domain": [-0.5, 6], "nice": false, "zero": false}, "axis": null},
     "y": {"datum": 0.8, "type": "quantitative", "scale": {"domain": [0, 1]}, "axis": null}}},
   {"mark": {"type": "text", "text": "Decreased odds", "align": "right", "baseline": "middle", "fontSize": 10, "fontWeight": "bold", "color": "#111"},
    "encoding": {"x": {"datum": 0.86, "type": "quantitative", "scale": {"domain": [-0.5, 6], "nice": false, "zero": false}, "axis": null},
     "y": {"datum": 0.36, "type": "quantitative", "scale": {"domain": [0, 1]}, "axis": null}}},
   {"mark": {"type": "text", "text": "Increased odds", "align": "left", "baseline": "middle", "fontSize": 10, "fontWeight": "bold", "color": "#111"},
    "encoding": {"x": {"datum": 1.33, "type": "quantitative", "scale": {"domain": [-0.5, 6], "nice": false, "zero": false}, "axis": null},
     "y": {"datum": 0.36, "type": "quantitative", "scale": {"domain": [0, 1]}, "axis": null}}}
  ]}
 ], "spacing": 23, "bounds": "flush", "resolve": {"scale": {"fill": "independent", "shape": "independent", "stroke": "independent"}}},
{"width": 104, "height": 538,
 "data": {"name": "estB"},
 "layer": [
  {"data": {"values": [{}]}, "mark": {"type": "text", "text": "AOR ( 95% CI)", "align": "left", "baseline": "middle", "dy": -27, "fontSize": 14, "fontWeight": "bold", "color": "#000"},
   "encoding": {"y": {"datum": "Male", "type": "nominal", "scale": {"type": "point", "domain": ["Male","18-30 (reference)","31-45","46-60","61-82","≤ 24.9 (reference)","25-29.9","≥ 30","No (reference)","Yes","Missing data","Current smoking","Family asthma/allergy history"], "padding": 0.43}, "axis": null},
    "x": {"datum": 0.023, "type": "quantitative", "scale": {"domain": [0, 1]}, "axis": null}}},
  {"transform": [{"filter": "datum.group !== 'Sex'"}],
   "mark": {"type": "text", "align": "left", "baseline": "middle", "fontSize": 10.5, "fontWeight": {"expr": "datum.lo > 1 || datum.hi < 1 ? 'bold' : 'normal'"}},
   "encoding": {"y": {"field": "row", "type": "nominal", "scale": {"type": "point", "domain": ["Male","18-30 (reference)","31-45","46-60","61-82","≤ 24.9 (reference)","25-29.9","≥ 30","No (reference)","Yes","Missing data","Current smoking","Family asthma/allergy history"], "padding": 0.43}, "axis": null},
    "yOffset": {"field": "series", "type": "nominal", "scale": {"type": "point", "domain": ["All participants", "Male", "Female"], "range": [-10.5, 10.5], "padding": 0}},
    "x": {"datum": 0.023, "type": "quantitative", "scale": {"domain": [0, 1]}, "axis": null}, "text": {"field": "ci"}}},
  {"transform": [{"filter": "datum.group === 'Sex'"}],
   "mark": {"type": "text", "align": "left", "baseline": "middle", "fontSize": 11, "fontWeight": {"expr": "datum.lo > 1 || datum.hi < 1 ? 'bold' : 'normal'"}},
   "encoding": {"y": {"field": "row", "type": "nominal", "scale": {"type": "point", "domain": ["Male","18-30 (reference)","31-45","46-60","61-82","≤ 24.9 (reference)","25-29.9","≥ 30","No (reference)","Yes","Missing data","Current smoking","Family asthma/allergy history"], "padding": 0.43}, "axis": null},
    "x": {"datum": 0.023, "type": "quantitative", "scale": {"domain": [0, 1]}, "axis": null}, "text": {"field": "ci"}}},
  {"data": {"name": "rows"}, "transform": [{"filter": "datum.aor"}],
   "mark": {"type": "text", "align": "center", "baseline": "middle", "fontSize": 11},
   "encoding": {"y": {"field": "row", "type": "nominal", "scale": {"type": "point", "domain": ["Male","18-30 (reference)","31-45","46-60","61-82","≤ 24.9 (reference)","25-29.9","≥ 30","No (reference)","Yes","Missing data","Current smoking","Family asthma/allergy history"], "padding": 0.43}, "axis": null},
    "x": {"datum": 0.446, "type": "quantitative", "scale": {"domain": [0, 1]}, "axis": null}, "text": {"field": "aor"}}}
 ]}
], "spacing": 0, "resolve": {"scale": {"fill": "independent", "shape": "independent", "stroke": "independent"}}
}
],
"spacing": 29,
"resolve": {"scale": {"fill": "independent", "shape": "independent", "stroke": "independent"}}
}
